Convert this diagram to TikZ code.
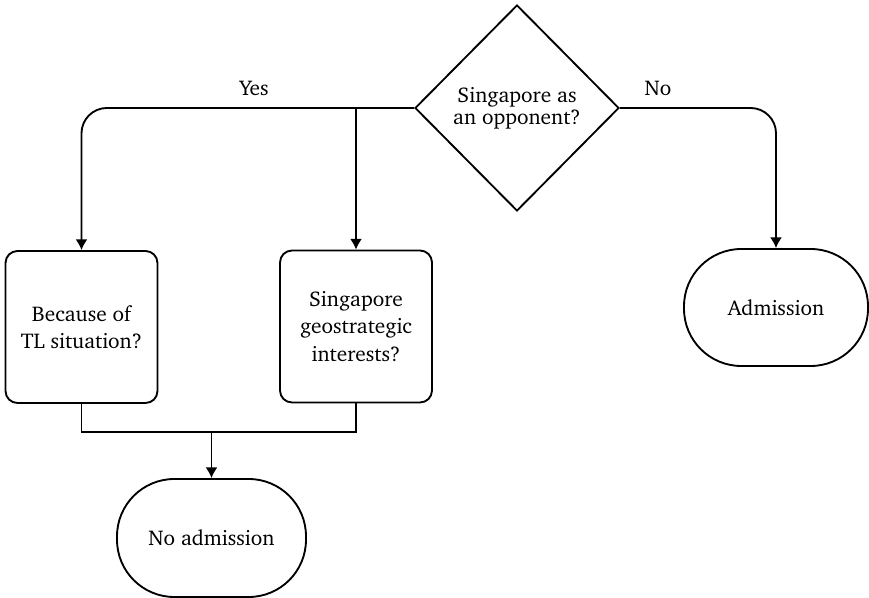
\documentclass[tikz,border=0pt]{standalone}
\usepackage[T1]{fontenc}
\usepackage{charter}
\usetikzlibrary{shapes.geometric,arrows.meta}
\begin{document}
\begin{tikzpicture}[x=0.75pt,y=-0.75pt,
  every node/.style={font=\fontsize{16}{20.5}\selectfont, align=center, inner sep=0pt},
  flow/.style={line width=1.4pt, draw=black},
  arr/.style={flow, -{Latex[length=8pt,width=9pt]}},
  decision/.style={flow, diamond, minimum width=153pt, minimum height=154.5pt,
    font=\fontsize{16}{16.3}\selectfont},
  question/.style={flow, rectangle, rounded corners=9pt, minimum width=114pt, minimum height=114pt},
  terminal/.style={flow, rectangle, rounded corners=43pt},
  branchlabel/.style={fill=none}]
  \useasboundingbox (0,0) rectangle (869,598);

  \node[decision] (d) at (517,108) {Singapore as\\an opponent?};
  \node[question] (b1) at (81.5,327) {Because of\\TL situation?};
  \node[question] (b2) at (356,326.5) {Singapore\\geostrategic\\interests?};
  \node[terminal, minimum width=138pt, minimum height=87.75pt] (adm) at (776,307.5) {Admission};
  \node[terminal, minimum width=141.75pt, minimum height=88.5pt] (na) at (211.5,538) {No admission};

  \node[branchlabel] (yes) at (254,88) {Yes};
  \node[branchlabel] (no) at (658,88) {No};

  \coordinate (j) at (b2.north |- d.west);
  \coordinate (mj) at (211.5,432);

  \draw[arr, rounded corners=19pt] (d.west) -| (b1.north);
  \draw[arr] (j) -- (b2.north);
  \draw[arr, rounded corners=19pt] (d.east) -| (adm.north);
  \draw[flow] (b1.south) |- (mj) -| (b2.south);
  \draw[arr] (mj) -- (na.north);
\end{tikzpicture}
\end{document}
